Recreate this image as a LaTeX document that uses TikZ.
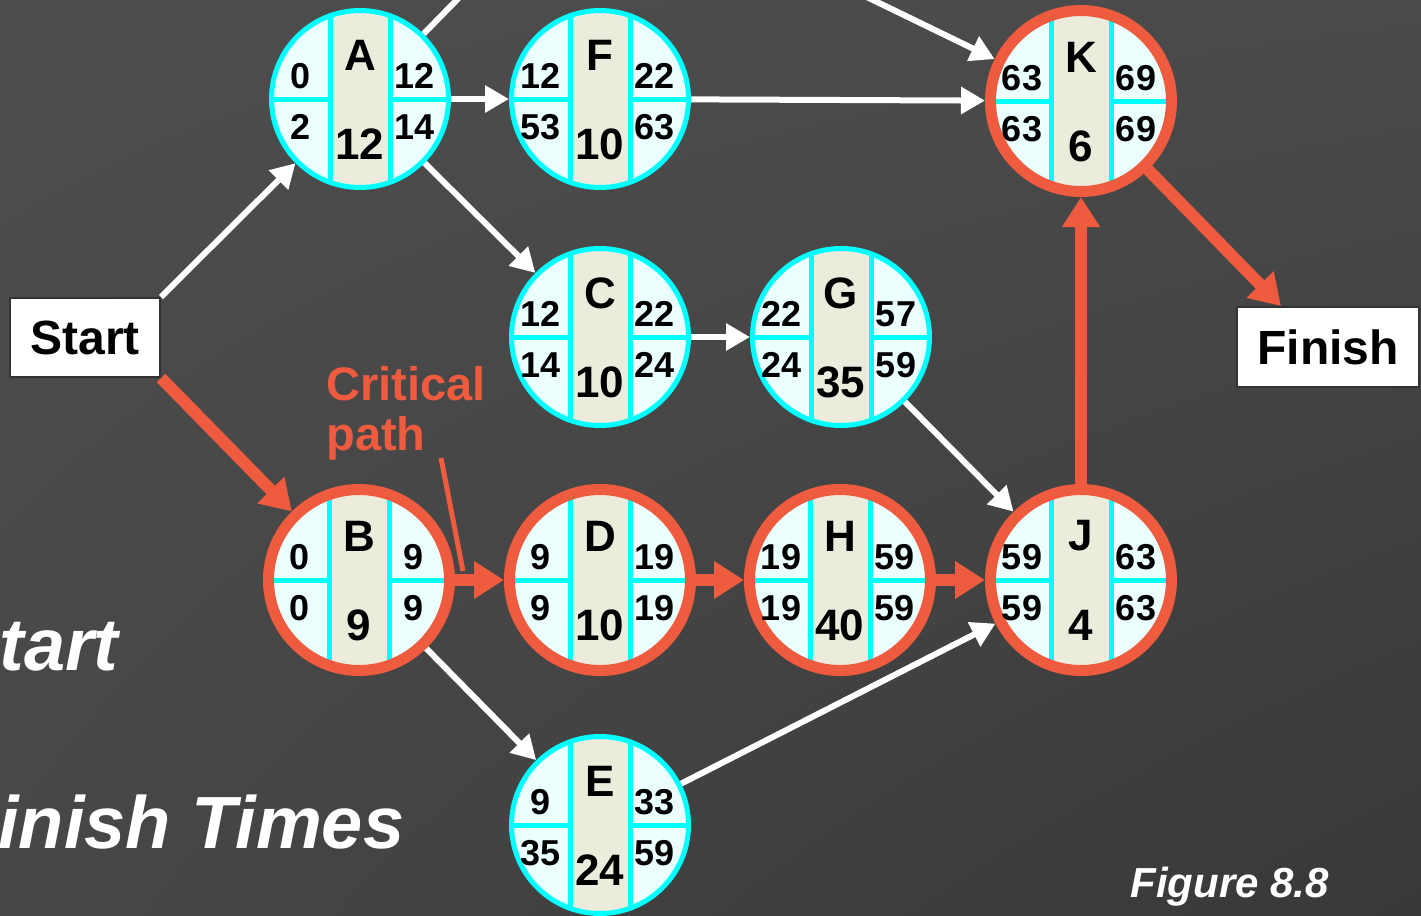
\documentclass[tikz,border=0pt]{standalone}
\usepackage{fontspec}
\setmainfont{Liberation Sans}
\usetikzlibrary{arrows.meta,calc,shadings}
\definecolor{critred}{HTML}{EE5B3E}
\definecolor{panelfill}{HTML}{EBFFFF}
\definecolor{stripfill}{HTML}{ECECDC}
\definecolor{ringcyan}{HTML}{00FFFF}
\definecolor{boxedge}{HTML}{333333}
\definecolor{bgul}{HTML}{4D4D4D}
\definecolor{bgur}{HTML}{4A4A4A}
\definecolor{bgll}{HTML}{474747}
\definecolor{bglr}{HTML}{383838}
\pgfdeclarelayer{backlayer}
\pgfdeclarelayer{edgelayer}
\pgfsetlayers{backlayer,edgelayer,main}
\tikzset{
  plainnode/.style={circle, minimum size=91pt, inner sep=0pt, outer sep=0pt},
  critnode/.style={circle, minimum size=96pt, inner sep=0pt, outer sep=0pt},
  plainring/.style={draw=ringcyan, line width=2.5pt, radius=44.25pt},
  critring/.style={draw=critred, line width=5.5pt, radius=45.25pt},
  divider/.style={draw=ringcyan, line width=2.5pt},
  numtxt/.style={inner sep=0pt, font=\bfseries\fontsize{18}{19}\selectfont},
  bigtxt/.style={inner sep=0pt, font=\bfseries\fontsize{22}{23}\selectfont},
  endbox/.style={draw=boxedge, line width=1pt, fill=white, inner sep=0pt,
    font=\bfseries\fontsize{24}{26}\selectfont},
  plainarrow/.style={draw=white, line width=3pt, -{Triangle[length=12pt,width=13pt]}},
  plainline/.style={draw=white, line width=3pt},
  critarrow/.style={draw=critred, line width=6pt, -{Triangle[length=15pt,width=18pt]}},
  pointer/.style={draw=critred, line width=2.5pt},
  crittxt/.style={inner sep=0pt, text=critred, font=\bfseries\fontsize{23.5}{25}\selectfont},
  slidetxt/.style={inner sep=0pt, text=white, font=\bfseries\itshape\fontsize{37}{40}\selectfont},
  figtxt/.style={inner sep=0pt, text=white, font=\bfseries\itshape\fontsize{21}{24}\selectfont},
}
% #1 name, #2 position, #3 letter, #4 duration, #5 ES, #6 EF, #7 LS, #8 LF, #9 plain/crit
\newcommand\actnode[9]{%
  \node[#9node] (#1) at (#2) {};
  \begin{scope}
    \clip (#1.center) circle[radius=43.5pt];
    \fill[panelfill] ($(#1.center)+(-100,-100)$) rectangle ($(#1.center)+(100,100)$);
    \fill[stripfill] ($(#1.center)+(-30,-100)$) rectangle ($(#1.center)+(30,100)$);
    \draw[divider] ($(#1.center)+(-30,-100)$) -- ($(#1.center)+(-30,100)$);
    \draw[divider] ($(#1.center)+(30,-100)$) -- ($(#1.center)+(30,100)$);
    \draw[divider] ($(#1.center)+(-100,0)$) -- ($(#1.center)+(-30,0)$);
    \draw[divider] ($(#1.center)+(30,0)$) -- ($(#1.center)+(100,0)$);
  \end{scope}
  \draw[#9ring] (#1.center) circle;
  \node[numtxt] (#1-es) at ($(#1.center)+(-59,-23)$) {#5};
  \node[numtxt] (#1-ef) at ($(#1.center)+(55,-23)$) {#6};
  \node[numtxt] (#1-ls) at ($(#1.center)+(-59,28)$) {#7};
  \node[numtxt] (#1-lf) at ($(#1.center)+(55,28)$) {#8};
  \node[bigtxt] (#1-name) at ($(#1.center)+(0,-44)$) {#3};
  \node[bigtxt] (#1-dur) at ($(#1.center)+(0,45)$) {#4};
}
\begin{document}
\begin{tikzpicture}[x=0.5pt,y=-0.5pt]
\useasboundingbox (0,0) rectangle (1421,916);
\begin{pgfonlayer}{backlayer}
  \shade[upper left=bgul, upper right=bgur, lower left=bgll, lower right=bglr]
    (0,0) rectangle (1421,916);
\end{pgfonlayer}

% slide title fragments and figure label
\node[slidetxt, anchor=base west] (title1) at (-1,670) {tart};
\node[slidetxt, anchor=base west] (title2) at (-2,848) {inish Times};
\node[figtxt, anchor=base west] (figlabel) at (1130,897) {Figure 8.8};

% start and finish
\node[endbox, minimum width=75pt, minimum height=39.5pt] (Start) at (85,337.5) {Start};
\node[endbox, minimum width=91pt, minimum height=40pt] (Finish) at (1328,347) {Finish};

% activities
\actnode{A}{360,99}{A}{12}{0}{12}{2}{14}{plain}
\actnode{F}{600,99}{F}{10}{12}{22}{53}{63}{plain}
\actnode{K}{1081,101}{K}{6}{63}{69}{63}{69}{crit}
\actnode{C}{600,337}{C}{10}{12}{22}{14}{24}{plain}
\actnode{G}{841,337}{G}{35}{22}{57}{24}{59}{plain}
\actnode{B}{359,580}{B}{9}{0}{9}{0}{9}{crit}
\actnode{D}{600,580}{D}{10}{9}{19}{9}{19}{crit}
\actnode{H}{840,580}{H}{40}{19}{59}{19}{59}{crit}
\actnode{J}{1081,580}{J}{4}{59}{63}{59}{63}{crit}
\actnode{E}{600,825}{E}{24}{9}{33}{35}{59}{plain}

% off-picture ends
\coordinate (aup) at (530,-75);
\coordinate (kup) at (770,-50);

% critical path label
\node[crittxt, anchor=base west] (crit1) at (326,400) {Critical};
\node[crittxt, anchor=base west] (crit2) at (326,450) {path};
\coordinate (ptrend) at (463,571);

\begin{pgfonlayer}{edgelayer}
  \draw[plainarrow] (Start.north east) -- (A);
  \draw[plainline] (A) -- (aup);
  \draw[plainarrow] (kup) -- (K);
  \draw[plainarrow] (A) -- (F);
  \draw[plainarrow] (A) -- (C);
  \draw[plainarrow] (F) -- (K);
  \draw[plainarrow] (C) -- (G);
  \draw[plainarrow] (G) -- (J);
  \draw[plainarrow] (B) -- (E);
  \draw[plainarrow] (E) -- (J);
  \draw[critarrow] (Start.south east) -- (B);
  \draw[critarrow] (B) -- (D);
  \draw[critarrow] (D) -- (H);
  \draw[critarrow] (H) -- (J);
  \draw[critarrow] (J) -- (K);
  \draw[critarrow] (K) -- ([xshift=22.5pt]Finish.north west);
  \draw[pointer] ($(crit2.base east)+(15,8)$) -- (ptrend);
\end{pgfonlayer}
\end{tikzpicture}
\end{document}
